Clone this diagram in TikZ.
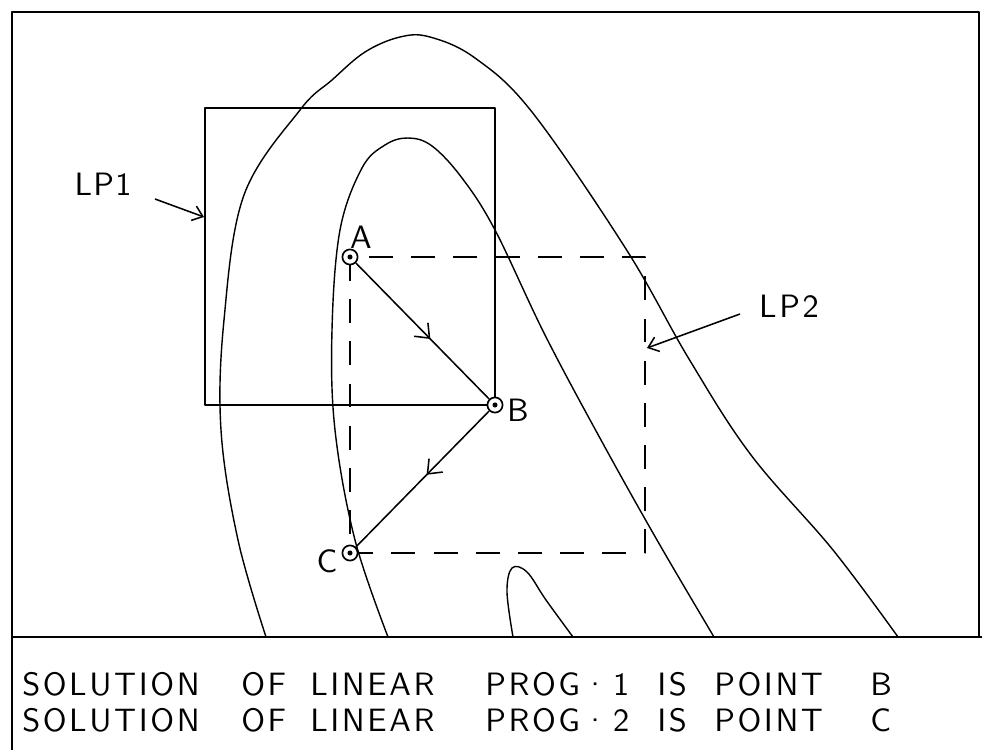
\documentclass[tikz,border=0pt]{standalone}
\usepackage{fontspec}
\usetikzlibrary{arrows.meta, decorations.markings}
\newfontfamily\lettering{lmsans10-regular.otf}[LetterSpace=8]
\newfontfamily\tagfont{lmsans10-regular.otf}[LetterSpace=4]
\tikzset{
  contour/.style={line width=1pt, smooth, tension=0.6},
  lpbox/.style={line width=1.3pt},
  lpdash/.style={line width=1.3pt, dash pattern=on 17pt off 13pt},
  ptmark/.style={circle, draw, line width=1.2pt, fill=white, inner sep=0pt,
    minimum size=0.38cm},
  ptname/.style={font=\tagfont\fontsize{23}{27}\selectfont, inner sep=0pt},
  callout/.style={line width=1.1pt, -{Straight Barb[length=2.4mm, width=3.8mm]}},
  midarrow/.style={decoration={markings, mark=at position #1 with
    {\arrow{Straight Barb[length=3mm, width=4.8mm]}}}, postaction={decorate}},
  caption/.style={font=\lettering\fontsize{23}{27}\selectfont,
    inner sep=0pt, anchor=base west}
}
\begin{document}
\begin{tikzpicture}[x=0.025cm, y=-0.025cm, line join=round]
\useasboundingbox (0,0) rectangle (982,750);

%% -- frame and caption rule ---------------------------
\draw[line width=1.8pt] (12,750) -- (12,12) -- (979,12) -- (979,637);
\draw[line width=1.2pt] (12,637) -- (982,637);

%% -- contours -----------------------------------------
\draw[contour] plot coordinates {(266,637) (238,540) (221,430) (224,320)
  (244,195) (300,110) (332,80) (365,52) (400,37) (430,37) (475,58)
  (532,112) (626,249) (689,359) (751,455) (833,550) (898,637)};
\draw[contour] plot coordinates {(388,637) (355,540) (335,430) (332,330)
  (340,230) (362,168) (385,145) (408,138) (432,146) (462,178) (495,230)
  (545,335) (601,440) (657,540) (714,637)};
\draw[contour] plot coordinates {(513,637) (507,592) (512,568) (527,572)
  (546,600) (573,637)};

%% -- the two LP regions -------------------------------
\coordinate (a) at (350,257);
\coordinate (b) at (495,405);
\coordinate (c) at (350,553);
\coordinate (lp1nw) at (205,108);
\coordinate (lp2se) at (645,553);
\draw[lpbox] (lp1nw) rectangle (b);
\draw[lpdash] (a) rectangle (lp2se);

%% -- solution points ----------------------------------
\node[ptmark] (A) at (a) {};
\node[ptmark] (B) at (b) {};
\node[ptmark] (C) at (c) {};
\foreach \p in {A,B,C}
  \fill (\p.center) circle (1.8pt);
\node[ptname] (labA) at (361,237) {A};
\node[ptname] (labB) at (518,410) {B};
\node[ptname] (labC) at (327,561) {C};

% path A -> B -> C
\draw[line width=1.1pt, midarrow=0.56] (A) -- (B);
\draw[line width=1.1pt, midarrow=0.47] (B) -- (C);

%% -- labels with callouts -----------------------------
\node[ptname] (lp1) at (103,184) {LP1};
\node[ptname, font=\lettering\fontsize{23}{27}\selectfont] (lp2) at (789,306) {LP2};
\coordinate (lp1tail) at (155,199);
\coordinate (lp1hit)  at (204,217);
\coordinate (lp2tail) at (740,314);
\coordinate (lp2hit)  at (647,348);
\draw[callout] (lp1tail) -- (lp1hit);
\draw[callout] (lp2tail) -- (lp2hit);

%% -- caption, word by word ----------------------------
\foreach \w/\x [count=\i] in {SOLUTION/22, OF/241, LINEAR/310, PROG·\,1/485,
    IS/657, POINT/714, B/870}
  \node[caption] (solA\i) at (\x,695) {\w};
\foreach \w/\x [count=\i] in {SOLUTION/22, OF/241, LINEAR/310, PROG·\,2/485,
    IS/657, POINT/714, C/870}
  \node[caption] (solB\i) at (\x,731) {\w};

\end{tikzpicture}
\end{document}
